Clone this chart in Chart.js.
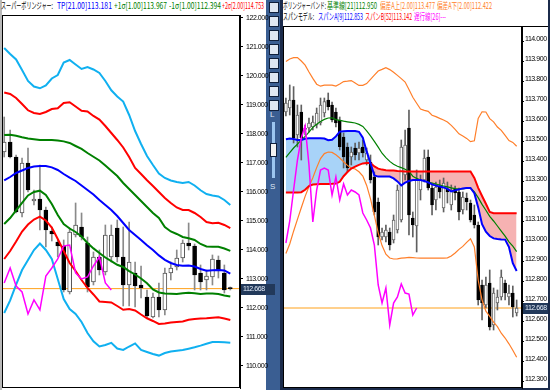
<!DOCTYPE html>
<html lang="ja">
<head>
<meta charset="utf-8">
<title>スーパーボリンジャー / スパンモデル</title>
<script src="https://cdn.jsdelivr.net/npm/chart.js@4.4.1/dist/chart.umd.min.js"></script>
<style>
  html, body { margin:0; padding:0; }
  body { width:550px; height:390px; overflow:hidden; position:relative; background:#fff;
         font-family:"Noto Sans CJK JP","Noto Sans",sans-serif; }
  .seg { position:absolute; font-size:9px; line-height:10px; white-space:nowrap; transform-origin:0 0; }
  canvas { position:absolute; }
  .blk { position:absolute; }
  .icon { position:absolute; left:269px; width:8px; height:9px; background:#dfe7f2; border:1px solid #0e1e3a; }
</style>
</head>
<body>
<!-- left panel decorations -->
<div class="blk" style="left:0;top:0;width:2px;height:390px;background:#b9b9b9"></div>
<!-- sidebar -->
<div class="blk" style="left:266px;top:0;width:14px;height:390px;background:#3a5e92"></div>
<div class="icon" style="top:2px"></div>
<div class="icon" style="top:16px"></div>
<div class="icon" style="top:30px"></div>
<div class="icon" style="top:44px"></div>
<div class="icon" style="top:58px"></div>
<div class="icon" style="top:72px"></div>
<div class="icon" style="top:86px"></div>
<div class="icon" style="top:100px"></div>
<div class="blk" style="left:270px;top:110px;font:8px 'Liberation Sans',sans-serif;color:#dfe8f5">L</div>
<div class="blk" style="left:272px;top:122px;width:3px;height:56px;background:#9cc6f0"></div>
<div class="blk" style="left:270px;top:143px;width:7px;height:14px;background:#f2f2f2;border:1px solid #0e1e3a;box-sizing:border-box"></div>
<div class="blk" style="left:270px;top:182px;font:8px 'Liberation Sans',sans-serif;color:#dfe8f5">S</div>
<!-- right panel border -->
<div class="blk" style="left:280px;top:0;width:3px;height:390px;background:#1b2b4b"></div>
<div class="blk" style="left:548px;top:0;width:2px;height:390px;background:#1b2b4b"></div>
<div class="blk" style="left:283px;top:388px;width:267px;height:2px;background:#1b2b4b"></div>
<div class="blk" style="left:283px;top:26px;width:265px;height:1px;background:#000"></div>

<!-- headers -->
<span class="seg" data-w="52" style="left:1px;top:1px;color:#000">スーパーボリンジャー:</span>
<span class="seg" data-w="55" style="left:57px;top:1px;color:#0000ff">TP[21.00]113.181</span>
<span class="seg" data-w="53" style="left:114px;top:1px;color:#008000">+1σ[1.00]113.967</span>
<span class="seg" data-w="52" style="left:169px;top:1px;color:#008000">-1σ[1.00]112.394</span>
<span class="seg" data-w="42" style="left:222px;top:1px;color:#ff0000">+2σ[2.00]114.753</span>

<span class="seg" data-w="43" style="left:283px;top:1px;color:#000">ボリンジャーバンド:</span>
<span class="seg" data-w="50" style="left:327px;top:1px;color:#008000">基準線[21]112.950</span>
<span class="seg" data-w="55" style="left:380px;top:1px;color:#ff7f2a">偏差A上[2.00]113.477</span>
<span class="seg" data-w="55" style="left:437px;top:1px;color:#ff7f2a">偏差A下[2.00]112.422</span>
<span class="seg" data-w="31" style="left:283px;top:12px;color:#000">スパンモデル:</span>
<span class="seg" data-w="45" style="left:318px;top:12px;color:#0000ff">スパンA[9]112.853</span>
<span class="seg" data-w="47" style="left:365px;top:12px;color:#ff0000">スパンB[52]113.142</span>
<span class="seg" data-w="32" style="left:414px;top:12px;color:#ff00ff">遅行線[26]---</span>

<canvas id="cL" width="273" height="389" style="left:2px;top:7px"></canvas>
<canvas id="cR" width="265" height="378" style="left:283px;top:18px"></canvas>

<script>
// ---------------- data ----------------
const lastPrice = 112.668;
const leftTicks  = [122, 121, 120, 119, 118, 117, 116, 115, 114, 113, 112, 111, 110];
const rightTicks = [114.0, 113.9, 113.8, 113.7, 113.6, 113.5, 113.4, 113.3, 113.2, 113.1, 113.0, 112.9, 112.8, 112.7, 112.6, 112.5, 112.4, 112.3];

// left panel: スーパーボリンジャー (39 bars)
const leftOpen  = [117.379,117.724,117.207,115.276,117.000,115.690,115.759,115.379,114.655,114.276,114.138,112.552,114.517,114.793,114.241,112.897,113.759,113.241,113.759,114.759,113.759,112.793,113.207,112.793,112.379,111.690,112.379,111.931,113.207,113.414,113.724,114.241,114.138,113.207,112.966,113.069,113.655,113.207,112.672];
const leftHigh  = [118.586,118.138,117.276,117.172,117.517,116.069,116.931,115.483,114.793,114.345,114.345,114.759,115.621,115.276,114.448,113.931,114.000,114.862,114.862,115.034,114.793,114.966,113.586,113.448,112.621,112.517,112.862,113.379,113.586,114.000,114.345,114.931,114.207,113.483,113.310,113.828,113.793,113.483,112.724];
const leftLow   = [117.207,117.172,115.276,115.138,116.000,115.552,114.690,114.103,114.310,113.759,112.552,112.483,114.448,114.345,112.552,112.793,113.138,113.138,113.586,113.586,112.069,112.069,112.034,112.345,111.655,111.655,111.690,111.759,112.966,113.310,113.586,114.000,112.621,112.621,112.621,112.793,113.034,112.517,112.621];
const leftClose = [117.724,117.207,115.310,117.000,116.069,115.759,115.379,114.690,114.552,114.138,112.621,114.621,114.862,114.448,112.724,113.759,113.310,114.517,114.517,113.759,112.793,113.586,112.759,112.690,111.724,112.379,111.931,113.207,113.379,113.724,114.241,114.138,113.138,112.897,113.103,113.690,113.310,112.621,112.668];
const leftUp3 = [120.966,120.759,120.569,120.207,119.828,119.638,119.576,119.672,119.914,120.034,120.466,120.552,120.397,120.241,120.310,120.224,120.103,119.828,119.507,119.293,119.117,118.655,118.103,117.655,117.241,116.931,116.638,116.483,116.397,116.345,116.310,116.345,116.224,116.059,115.931,115.879,115.845,115.724,115.552];
const leftUp2 = [119.431,119.379,119.241,119.034,118.817,118.724,118.690,118.759,118.862,118.886,119.069,119.097,118.948,118.800,118.776,118.621,118.497,118.276,118.034,117.793,117.534,117.207,116.828,116.621,116.403,116.207,116.000,115.793,115.621,115.466,115.379,115.379,115.276,115.138,114.966,114.924,114.938,114.862,114.753];
const leftUp1 = [117.966,117.976,117.941,117.890,117.845,117.817,117.793,117.793,117.793,117.776,117.745,117.690,117.586,117.483,117.345,117.214,117.086,116.914,116.731,116.552,116.310,116.103,115.897,115.690,115.483,115.276,115.103,114.793,114.638,114.552,114.448,114.403,114.345,114.207,114.121,114.114,114.114,114.052,113.967];
const leftTP  = [116.397,116.517,116.655,116.741,116.828,116.876,116.897,116.897,116.848,116.759,116.621,116.493,116.379,116.224,116.069,115.914,115.724,115.552,115.379,115.172,114.931,114.690,114.517,114.345,114.162,114.000,113.814,113.662,113.552,113.483,113.459,113.462,113.431,113.345,113.286,113.300,113.310,113.293,113.181];
const leftDn1 = [114.897,115.103,115.362,115.621,115.879,116.000,116.045,115.897,115.586,115.207,114.897,114.741,114.621,114.466,114.241,114.055,113.897,113.741,113.614,113.490,113.414,113.269,113.155,113.017,112.852,112.638,112.534,112.500,112.490,112.483,112.510,112.528,112.510,112.483,112.497,112.503,112.483,112.431,112.394];
const leftDn2 = [113.690,113.966,114.293,114.638,114.879,115.052,115.148,115.017,114.776,114.379,113.966,113.552,113.276,112.966,112.690,112.466,112.224,112.207,112.190,112.069,111.938,111.966,111.914,111.776,111.645,111.552,111.448,111.462,111.497,111.517,111.534,111.593,111.621,111.634,111.645,111.662,111.679,111.638,111.586];
const leftDn3 = [111.828,112.262,112.807,113.310,113.655,114.000,114.224,114.000,113.690,113.000,112.310,111.966,111.793,111.517,111.138,110.852,110.672,110.724,110.800,110.600,110.552,110.672,110.779,110.552,110.483,110.414,110.359,110.448,110.500,110.524,110.552,110.597,110.645,110.703,110.769,110.828,110.828,110.818,110.803];
const leftLag = [112.862,113.379,112.759,112.552,111.793,112.276,111.931,113.103,113.379,113.690,114.138,114.172,113.207,113.000,113.069,113.448,113.759,112.862,112.621];

// right panel: ボリンジャーバンド + スパンモデル (61 bars)
const rightOpen  = [113.648,113.668,113.708,113.533,113.648,113.561,113.568,113.573,113.583,113.593,113.643,113.708,113.683,113.648,113.608,113.523,113.473,113.423,113.468,113.443,113.473,113.408,113.398,113.323,113.198,113.023,113.023,113.048,113.008,113.058,113.108,113.333,113.568,113.118,113.078,113.258,113.308,113.423,113.268,113.208,113.273,113.168,113.263,113.183,113.263,113.248,113.158,113.218,113.193,113.133,113.083,112.783,112.683,112.793,112.583,112.693,112.723,112.793,112.723,112.743,112.643];
const rightHigh  = [113.718,113.783,113.775,113.683,113.683,113.583,113.618,113.628,113.668,113.718,113.718,113.743,113.698,113.668,113.623,113.543,113.493,113.473,113.493,113.498,113.508,113.468,113.433,113.348,113.218,113.068,113.083,113.068,113.133,113.283,113.508,113.558,113.658,113.148,113.358,113.333,113.458,113.458,113.293,113.298,113.308,113.318,113.298,113.283,113.278,113.268,113.248,113.243,113.208,113.183,113.098,112.808,112.823,112.858,112.768,112.758,112.858,112.808,112.783,112.778,112.708];
const rightLow   = [113.628,113.633,113.493,113.473,113.408,113.533,113.548,113.558,113.568,113.583,113.623,113.658,113.598,113.573,113.458,113.368,113.348,113.383,113.408,113.408,113.423,113.383,113.293,113.133,112.983,113.008,112.998,112.958,112.993,113.043,113.098,113.308,113.033,113.023,112.948,113.208,113.298,113.258,113.133,113.158,113.218,113.148,113.193,113.158,113.208,113.108,113.138,113.158,113.098,113.068,112.683,112.608,112.668,112.558,112.558,112.658,112.708,112.708,112.683,112.623,112.628];
const rightClose = [113.693,113.708,113.518,113.633,113.518,113.566,113.593,113.598,113.643,113.683,113.700,113.675,113.608,113.593,113.475,113.423,113.368,113.448,113.433,113.468,113.443,113.443,113.308,113.148,113.023,113.048,113.058,112.983,113.108,113.258,113.473,113.483,113.133,113.083,113.308,113.308,113.418,113.268,113.183,113.273,113.248,113.293,113.248,113.258,113.243,113.148,113.223,113.198,113.108,113.083,112.708,112.693,112.783,112.573,112.743,112.723,112.823,112.743,112.743,112.673,112.668];
const rightUpper = [113.900,113.913,113.920,113.920,113.903,113.882,113.848,113.816,113.787,113.777,113.782,113.783,113.782,113.778,113.788,113.800,113.802,113.805,113.793,113.781,113.781,113.790,113.811,113.832,113.853,113.861,113.870,113.860,113.847,113.831,113.815,113.798,113.760,113.722,113.692,113.663,113.656,113.651,113.632,113.625,113.616,113.608,113.598,113.581,113.561,113.539,113.528,113.516,113.500,113.504,113.616,113.649,113.648,113.615,113.599,113.573,113.556,113.531,113.505,113.496,113.477];
const rightMid   = [113.421,113.445,113.468,113.487,113.507,113.526,113.547,113.571,113.587,113.601,113.611,113.618,113.619,113.610,113.606,113.602,113.599,113.596,113.593,113.586,113.576,113.554,113.529,113.501,113.472,113.442,113.420,113.401,113.387,113.377,113.370,113.362,113.351,113.327,113.316,113.308,113.303,113.297,113.293,113.288,113.283,113.278,113.274,113.269,113.265,113.262,113.264,113.267,113.267,113.248,113.220,113.186,113.157,113.126,113.103,113.078,113.052,113.027,112.999,112.977,112.950];
const rightLower = [112.941,112.988,113.052,113.111,113.169,113.226,113.275,113.319,113.370,113.415,113.440,113.448,113.446,113.434,113.418,113.399,113.381,113.368,113.363,113.349,113.328,113.281,113.214,113.131,113.044,112.980,112.937,112.918,112.913,112.914,112.917,112.919,112.921,112.920,112.918,112.917,112.917,112.917,112.917,112.917,112.917,112.917,112.919,112.928,112.943,112.961,112.976,112.996,113.014,112.973,112.808,112.708,112.652,112.626,112.597,112.575,112.542,112.518,112.489,112.457,112.422];
const spanA = [113.512,113.515,113.513,113.508,113.508,113.514,113.517,113.517,113.517,113.517,113.515,113.507,113.509,113.526,113.550,113.552,113.553,113.553,113.553,113.549,113.520,113.451,113.391,113.331,113.325,113.325,113.325,113.325,113.316,113.301,113.281,113.295,113.303,113.308,113.308,113.308,113.303,113.296,113.286,113.280,113.275,113.271,113.264,113.251,113.256,113.261,113.266,113.268,113.268,113.242,113.171,113.087,113.049,113.028,113.016,113.013,113.011,113.010,112.973,112.892,112.853];
const spanB = [113.245,113.245,113.245,113.245,113.247,113.259,113.278,113.285,113.287,113.288,113.288,113.288,113.289,113.291,113.299,113.327,113.348,113.365,113.375,113.384,113.391,113.393,113.393,113.376,113.365,113.360,113.357,113.356,113.355,113.353,113.352,113.351,113.350,113.350,113.350,113.350,113.350,113.350,113.350,113.350,113.350,113.350,113.350,113.350,113.350,113.350,113.350,113.350,113.350,113.318,113.269,113.228,113.189,113.148,113.142,113.142,113.142,113.142,113.142,113.142,113.142];
const rightLag = [112.993,113.103,113.258,113.408,113.518,113.578,113.383,113.098,113.258,113.358,113.368,113.358,113.233,113.323,113.208,113.288,113.233,113.258,113.248,113.233,113.143,113.108,113.068,112.983,112.783,112.693,112.768,112.583,112.693,112.723,112.788,112.743,112.738,112.633,112.668];

// ---------------- helpers ----------------
const axisFamily = "'Liberation Sans',Arial,sans-serif";
const axisFont = {family: axisFamily, size: 7};

function pts(arr) { return arr.map((v, i) => ({x: i, y: v})); }
function lineDs(arr, color, width, order) {
  return {type: 'line', data: pts(arr), borderColor: color, borderWidth: width,
          pointRadius: 0, pointHoverRadius: 0, fill: false, tension: 0, order: order};
}
function priceDs(xMin, xMax) {
  return {type: 'line', data: [{x: xMin, y: lastPrice}, {x: xMax, y: lastPrice}],
          borderColor: '#ffa11a', borderWidth: 1, pointRadius: 0, fill: false, order: 15};
}
function candles(o, h, l, c, thick, wickColor, upBorder) {
  return [
    {type: 'bar', data: o.map((_, i) => ({x: i, y: [l[i], h[i]]})), backgroundColor: wickColor,
     borderWidth: 0, barThickness: 1, grouped: false, order: 12},
    {type: 'bar', data: o.map((_, i) => ({x: i, y: [o[i], c[i]]})),
     backgroundColor: o.map((_, i) => c[i] >= o[i] ? '#ffffff' : '#000000'),
     borderColor: o.map((_, i) => c[i] >= o[i] ? upBorder : '#000000'),
     borderWidth: 1, borderSkipped: false, barThickness: thick, minBarLength: 1, grouped: false, order: 11}
  ];
}
function yAxis(min, max, tickVals, width, labelOffset, tickLen, pad) {
  return {
    type: 'linear', position: 'right', min: min, max: max,
    afterFit: s => { s.width = width; },
    afterBuildTicks: s => { s.ticks = tickVals.map(v => ({value: v})); },
    ticks: {callback: v => Number(v).toFixed(3), font: axisFont, color: '#000', padding: pad,
            labelOffset: labelOffset, autoSkip: false},
    grid: {drawOnChartArea: false, drawTicks: true, tickLength: tickLen, color: '#000'},
    border: {display: true, color: '#000', width: 1}
  };
}
const framePlugin = {
  id: 'frameBox',
  beforeDraw(chart) {
    try { chart.ctx.letterSpacing = '-0.45px'; } catch (e) {}
  },
  afterDraw(chart) {
    const {ctx, chartArea: a, scales} = chart;
    ctx.save();
    ctx.strokeStyle = '#000'; ctx.lineWidth = 1;
    ctx.strokeRect(Math.round(a.left) + 0.5, Math.round(a.top) + 0.5,
                   Math.round(a.right - a.left) - 1, Math.round(a.bottom - a.top) - 1);
    const y = Math.round(scales.y.getPixelForValue(lastPrice));
    const x0 = Math.round(a.right) + 1;
    ctx.fillStyle = '#22395a';
    ctx.fillRect(x0, y - 5, chart.width - x0, 11);
    ctx.fillStyle = '#e6eefa';
    ctx.font = "7px " + axisFamily;
    ctx.textBaseline = 'middle';
    ctx.fillText(lastPrice.toFixed(3), x0 + 2, y + 0.5);
    ctx.restore();
  }
};
const common = {
  responsive: false, animation: false, devicePixelRatio: 1, events: [],
  layout: {padding: {top: 8, bottom: 8, left: 0, right: 0}},
  plugins: {legend: {display: false}, tooltip: {enabled: false}}
};

// ---------------- left chart ----------------
const lxMin = -0.37, lxMax = 39.63;
new Chart(document.getElementById('cL'), {
  type: 'line',
  data: {datasets: [
    lineDs(leftLag, '#ff00ff', 1.5, 1),
    lineDs(leftTP, '#0000ff', 2, 2),
    lineDs(leftUp1, '#008000', 2, 2),
    lineDs(leftDn1, '#008000', 2, 2),
    lineDs(leftUp2, '#ff0000', 2, 2),
    lineDs(leftDn2, '#ff0000', 2, 2),
    lineDs(leftUp3, '#10b0f0', 2, 2),
    lineDs(leftDn3, '#10b0f0', 2, 2),
    ...candles(leftOpen, leftHigh, leftLow, leftClose, 4, '#8a8a8a', '#555555'),
    priceDs(lxMin, lxMax)
  ]},
  options: Object.assign({}, common, {
    scales: {
      x: {type: 'linear', min: lxMin, max: lxMax, display: false, offset: false},
      y: yAxis(109.241, 122.103, leftTicks, 35, 0, 3, 3)
    }
  }),
  plugins: [framePlugin]
});

// ---------------- right chart ----------------
const rxMin = -0.754, rxMax = 61.39;
new Chart(document.getElementById('cR'), {
  type: 'line',
  data: {datasets: [
    {type: 'line', data: pts(spanA), borderColor: 'transparent', borderWidth: 0, pointRadius: 0,
     fill: {target: '+1', above: '#a8d3f8', below: '#f6b2b2'}, tension: 0, order: 30},
    {type: 'line', data: pts(spanB), borderColor: 'transparent', borderWidth: 0, pointRadius: 0,
     fill: false, tension: 0, order: 31},
    priceDs(rxMin, rxMax),
    ...candles(rightOpen, rightHigh, rightLow, rightClose, 3, '#606060', '#666666'),
    lineDs(rightUpper, '#ff7f2a', 1.2, 3),
    lineDs(rightLower, '#ff7f2a', 1.2, 3),
    lineDs(rightMid, '#008000', 1.2, 3),
    lineDs(spanA, '#0000ff', 2, 2),
    lineDs(spanB, '#ff0000', 2, 2),
    lineDs(rightLag, '#ff00ff', 1.5, 1)
  ]},
  options: Object.assign({}, common, {
    scales: {
      x: {type: 'linear', min: rxMin, max: rxMax, display: false, offset: false},
      y: yAxis(112.268, 114.078, rightTicks, 26, -3, 2, 1)
    }
  }),
  plugins: [framePlugin]
});

// fit header segments to their measured widths
document.querySelectorAll('.seg').forEach(el => {
  const w = +el.dataset.w;
  const nat = el.getBoundingClientRect().width;
  if (nat > 0) el.style.transform = 'scaleX(' + (w / nat) + ')';
});
</script>
</body>
</html>
